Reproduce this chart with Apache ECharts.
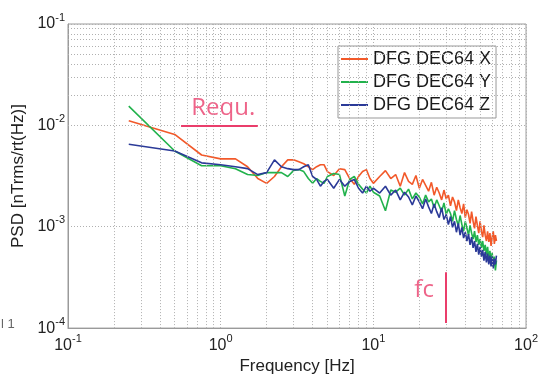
<!DOCTYPE html>
<html>
<head>
<meta charset="utf-8">
<script src="https://cdn.jsdelivr.net/npm/echarts@6/dist/echarts.min.js"></script>
<style>html,body{margin:0;padding:0;background:#fff}#c{width:541px;height:380px}</style>
</head>
<body>
<div id="c"></div>
<script>
// ---- data ----
const freqs = [0.25,0.5,0.75,1,1.25,1.5,1.75,2,2.25,2.5,2.75,3,3.25,3.5,3.75,4,4.25,4.5,4.75,5,
  5.5,6,6.5,7,7.5,8,8.5,9,9.5,10,
  11,12,13,14,15,16,17,18,19,20,21,22,23,24,25,26,27,28,29,30,31,32,33,34,35,36,37,38,39,40,
  41,42,43,44,45,46,47,48,49,50,51,52,53,54,55,56,57,58,59,60,61,62,63,64];
const psdX = [0.01110,0.00813,0.00510,0.00467,0.00467,0.00391,0.00299,0.00268,0.00313,0.00391,0.00457,0.00457,0.00437,0.00418,0.00391,0.00366,0.00391,0.00409,0.00409,0.00350,
  0.00320,0.00374,0.00366,0.00299,0.00262,0.00313,0.00350,0.00366,0.00299,0.00268,
  0.00313,0.00358,0.00299,0.00327,0.00251,0.00342,0.00280,0.00262,0.00320,0.00240,0.00293,0.002564,0.00224,0.00274,0.00205,0.002453,0.00215,0.00184,0.00230,0.00188,
  0.00205,0.00161,0.001964,0.00176,0.00144,0.00184,0.00154,0.00135,0.00168,0.00123,0.00147,0.00132,0.00108,0.001408,0.00113,0.000965,0.00126,0.00103,0.000864,0.00113,
  0.000903,0.000790,0.00103,0.000826,0.000723,0.000903,0.000707,0.000864,0.000647,0.000790,0.000903,0.000677,0.000826,0.000723];
const psdY = [0.01549,0.00558,0.00400,0.00400,0.00374,0.00327,0.00320,0.00342,0.00342,0.00342,0.00313,0.00358,0.00366,0.00350,0.00299,0.00268,0.00299,0.00280,0.00268,0.00313,
  0.00335,0.00327,0.00201,0.00293,0.00313,0.00262,0.00235,0.00215,0.00251,0.00219,
  0.00201,0.00144,0.00230,0.00219,0.00240,0.00205,0.00235,0.00188,0.00215,0.001964,0.00168,0.00205,0.00176,0.00188,0.00154,0.00184,0.00161,0.001408,0.001719,0.00132,
  0.001504,0.00135,0.00113,0.00144,0.001179,0.00103,0.00129,0.00105,0.000903,0.00113,0.000965,0.000826,0.00103,0.000864,0.000756,0.000903,0.000707,0.000826,0.000662,0.000756,
  0.000619,0.000723,0.000579,0.000662,0.000530,0.000633,0.000485,0.000579,0.000444,0.000554,0.000406,0.000507,0.000371,0.000464];
const psdZ = [0.00651,0.00558,0.00427,0.00409,0.00391,0.00374,0.00327,0.00342,0.00457,0.00391,0.00374,0.00366,0.00366,0.00391,0.00409,0.00313,0.00293,0.00251,0.00280,0.00293,
  0.00240,0.00293,0.00251,0.00280,0.00293,0.00240,0.00215,0.00251,0.00224,0.00240,
  0.00215,0.00251,0.00205,0.00230,0.00184,0.00219,0.001964,0.001644,0.00201,0.00176,0.001504,0.00188,0.00157,0.00135,0.00168,0.001408,0.00123,0.00154,0.001179,0.00132,
  0.00105,0.00126,0.000987,0.00113,0.000883,0.00108,0.000826,0.000987,0.000773,0.000883,0.000723,0.000845,0.000662,0.000790,0.000619,0.000723,0.000566,0.000677,0.000530,0.000633,
  0.000507,0.000592,0.000464,0.000566,0.000444,0.000542,0.000424,0.000518,0.000406,0.000507,0.000388,0.000485,0.000424,0.000518];
const seriesNames = ['DFG DEC64 X','DFG DEC64 Y','DFG DEC64 Z'];
const xRange = [0.1, 100];
const yRange = [1e-4, 1e-1];
// annotations
const reqFreqs = [0.55, 1.75];
const reqLevel = 0.01;
const reqText = 'Requ.';
const reqTextAt = [1.04, 0.0148];
const fcFreq = 30;
const fcSpan = [1.12e-4, 3.56e-4];
const fcText = 'fc';
const fcTextAt = [21.5, 2.38e-4];

// ---- build ----
const colors = ['#f2592a','#22b24c','#2b3a98'];
const annotColor = '#ea3d6b';
const gridColor = '#b0b0b0';
const font = 'Liberation Sans, Arial, sans-serif';

function minorValues(lo, hi) {
  const out = [];
  for (let d = Math.round(Math.log10(lo)); d < Math.round(Math.log10(hi)); d++) {
    for (let k = 2; k <= 9; k++) out.push(k * Math.pow(10, d));
  }
  return out;
}
const minorX = minorValues(xRange[0], xRange[1]);
const minorY = minorValues(yRange[0], yRange[1]);

function pow10Label(v) {
  const e = Math.round(Math.log10(v));
  return '{b|10}{s|' + e + '}';
}
const richLab = {
  b: {fontSize: 16, fontFamily: font, color: '#222', lineHeight: 24},
  s: {fontSize: 11, fontFamily: font, color: '#222', lineHeight: 11, verticalAlign: 'top'}
};

const toPairs = (arr) => freqs.map((f, i) => [f, arr[i]]);
const psd = [psdX, psdY, psdZ];

const series = [];
series.push({
  type: 'line', data: [], silent: true,
  markLine: {
    silent: true, symbol: 'none', animation: false,
    label: {show: false},
    lineStyle: {color: gridColor, type: [1, 2], width: 1},
    data: minorX.map(v => ({xAxis: v})).concat(minorY.map(v => ({yAxis: v})))
  }
});
seriesNames.forEach((n, i) => {
  series.push({
    name: n, type: 'line', data: toPairs(psd[i]), symbol: 'none', showSymbol: false,
    lineStyle: {color: colors[i], width: 1.6}, itemStyle: {color: colors[i]},
    emphasis: {disabled: true}
  });
});
series.push({
  type: 'line', data: [], silent: true,
  markLine: {
    silent: true, symbol: 'none', animation: false, label: {show: false},
    lineStyle: {color: annotColor, type: 'solid', width: 2},
    data: [
      [{coord: [reqFreqs[0], reqLevel]}, {coord: [reqFreqs[1], reqLevel]}],
      [{coord: [fcFreq, fcSpan[0]]}, {coord: [fcFreq, fcSpan[1]]}]
    ]
  }
});
series.push({
  type: 'scatter', symbolSize: 0, silent: true,
  data: [
    {value: reqTextAt, label: {formatter: reqText}},
    {value: fcTextAt, label: {formatter: fcText}}
  ],
  label: {show: true, position: 'inside', color: annotColor, fontSize: 24, fontFamily: 'Open Sans, sans-serif'}
});

const chart = echarts.init(document.getElementById('c'), null, {renderer: 'canvas'});
chart.setOption({
  animation: false,
  backgroundColor: '#fff',
  grid: {left: 68, right: 14, top: 24, bottom: 45, show: true, borderColor: '#9a9a9a', borderWidth: 1, backgroundColor: 'transparent'},
  legend: {
    data: seriesNames, orient: 'vertical', left: 338, top: 46,
    icon: 'rect', itemWidth: 27, itemHeight: 2, itemGap: 5,
    padding: [4, 5, 4, 3],
    backgroundColor: '#fff', borderColor: '#999', borderWidth: 1,
    textStyle: {fontSize: 18, fontFamily: font, color: '#1a1a1a', lineHeight: 18},
    selectedMode: false
  },
  xAxis: {
    type: 'log', logBase: 10, min: xRange[0], max: xRange[1],
    name: 'Frequency [Hz]', nameLocation: 'middle', nameGap: 26,
    nameTextStyle: {fontSize: 17, fontFamily: font, color: '#222'},
    axisLine: {lineStyle: {color: '#9a9a9a'}},
    axisTick: {show: false},
    axisLabel: {formatter: pow10Label, rich: richLab, margin: 5, showMinLabel: true, showMaxLabel: true},
    splitLine: {show: true, lineStyle: {color: gridColor, type: [1, 2], width: 1}}
  },
  yAxis: {
    type: 'log', logBase: 10, min: yRange[0], max: yRange[1],
    name: 'PSD [nTrms/rt(Hz)]', nameLocation: 'middle', nameGap: 40, nameRotate: 90,
    nameTextStyle: {fontSize: 17, fontFamily: font, color: '#222'},
    axisLine: {lineStyle: {color: '#9a9a9a'}},
    axisTick: {show: false},
    axisLabel: {formatter: pow10Label, rich: richLab, margin: 3, showMinLabel: true, showMaxLabel: true},
    splitLine: {show: true, lineStyle: {color: gridColor, type: [1, 2], width: 1}}
  },
  graphic: [{type: 'text', left: 1, top: 318, style: {text: 'l 1', fontSize: 13, fontFamily: font, fill: '#666'}}],
  series: series
});
</script>
</body>
</html>
